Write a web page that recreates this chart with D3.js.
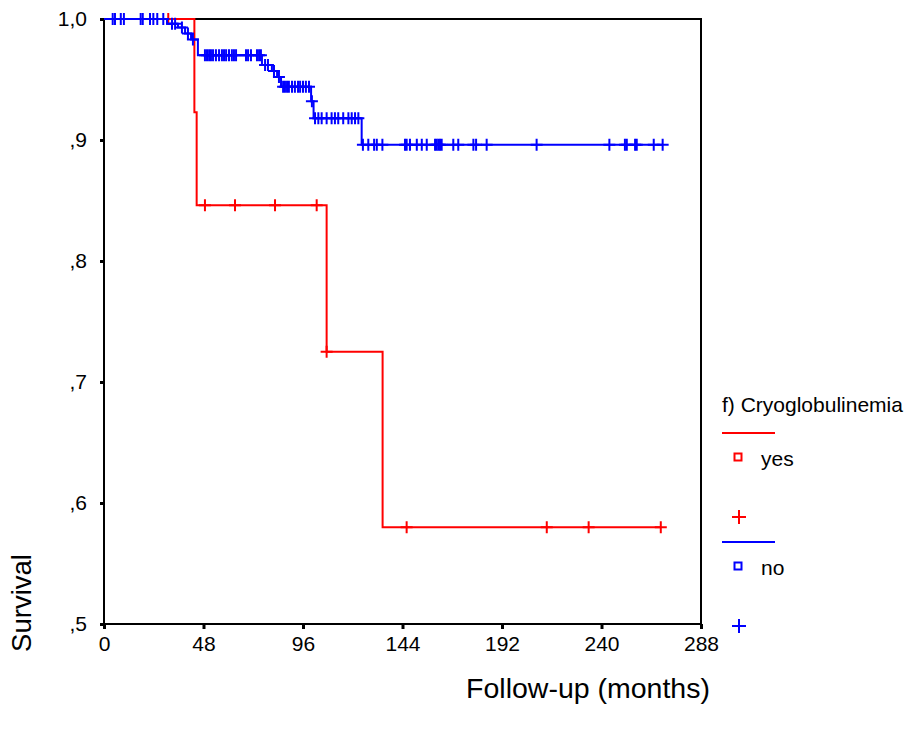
<!DOCTYPE html>
<html>
<head>
<meta charset="utf-8">
<script src="https://cdn.jsdelivr.net/npm/d3@7"></script>
<style>
  html, body { margin: 0; padding: 0; background: #fff; }
  svg { display: block; }
  text { font-family: "Liberation Sans", Arial, sans-serif; fill: #000; }
</style>
</head>
<body>
<svg id="chart" width="908" height="733"></svg>
<script>
// ---------- data ----------
const xTicks = [0, 48, 96, 144, 192, 240, 288];
const yTicks = [1.0, 0.9, 0.8, 0.7, 0.6, 0.5];
const yTickLabels = ["1,0", ",9", ",8", ",7", ",6", ",5"];

const groups = ["yes", "no"];
const groupColors = ["#ff0000", "#0000ff"];
const legendTitle = "f) Cryoglobulinemia";
const xTitle = "Follow-up (months)";
const yTitle = "Survival";

// "yes" (red) step curve: times (months) and survival after each step
const yesTimes = [0, 43.6, 44.7, 107.4, 134.4];
const yesSurv  = [1.0, 0.923, 0.846, 0.725, 0.580];
const yesCensor = [31.0, 48.7, 63.2, 82.5, 102.6, 107.4, 146.0, 213.6, 233.8, 268.6];

// "no" (blue) step curve
const noTimes = [0, 30.4, 35.7, 39.1, 42.0, 45.3, 76.2, 81.0, 83.5, 85.4, 99.9, 101.1, 124.3];
const noSurv  = [1.0, 0.996, 0.993, 0.988, 0.983, 0.970, 0.962, 0.957, 0.952, 0.944, 0.932, 0.918, 0.896];
const noCensor = [
  4.2, 5.3, 8.1, 9.6, 17.7, 18.7, 22.2, 23.8, 25.7, 28.6,
  32.8, 34.3, 37.6, 40.5, 42.9,
  48.7, 49.7, 50.7, 51.6, 52.6, 54.0, 55.5, 56.9, 57.9, 58.9, 60.3, 61.7, 62.7, 63.7,
  68.5, 69.5, 70.9, 73.8, 74.8, 75.7,
  77.7, 79.1, 82.0, 84.4,
  86.4, 87.3, 88.3, 89.2, 90.7, 92.1, 93.6, 94.6, 96.0, 97.4, 98.9,
  100.3,
  101.8, 103.4, 105.0, 107.4, 109.8, 111.4, 113.0, 115.4, 117.9, 119.5, 121.1, 122.7,
  124.9, 127.5, 130.3, 131.6, 134.3, 145.2, 146.0, 147.6, 150.9, 153.3, 155.7,
  159.7, 160.5, 161.3, 162.1, 162.9, 168.5, 170.9, 178.2, 179.5, 184.6,
  208.7, 243.8, 251.3, 252.2, 256.2, 257.0, 265.2, 269.5
];

// ---------- layout ----------
const svg = d3.select("#chart");
const x = d3.scaleLinear().domain([0, 288]).range([104, 701]);
const y = d3.scaleLinear().domain([0.5, 1.0]).range([624, 19]);

// frame
svg.append("rect")
  .attr("x", x(0)).attr("y", y(1))
  .attr("width", x(288) - x(0)).attr("height", y(0.5) - y(1))
  .attr("fill", "none").attr("stroke", "#000").attr("stroke-width", 2);

// x axis
const xAxis = svg.append("g").attr("transform", `translate(0,${y(0.5)})`)
  .call(d3.axisBottom(x).tickValues(xTicks).tickSize(5).tickPadding(7).tickFormat(d3.format("d")));
xAxis.select(".domain").remove();
xAxis.selectAll(".tick line").attr("stroke", "#000").attr("stroke-width", 3);
xAxis.selectAll(".tick text").attr("font-size", 21).attr("font-family", "Liberation Sans, Arial, sans-serif");

// y axis
const yAxis = svg.append("g").attr("transform", `translate(${x(0)},0)`)
  .call(d3.axisLeft(y).tickValues(yTicks).tickSize(4).tickPadding(13)
    .tickFormat(d => yTickLabels[yTicks.indexOf(d)]));
yAxis.select(".domain").remove();
yAxis.selectAll(".tick line").attr("stroke", "#000").attr("stroke-width", 3);
yAxis.selectAll(".tick text").attr("font-size", 21).attr("font-family", "Liberation Sans, Arial, sans-serif");

// axis titles
svg.append("text").attr("x", 588).attr("y", 698).attr("text-anchor", "middle")
  .attr("font-size", 28.5).text(xTitle);
svg.append("text").attr("transform", `translate(31,603) rotate(-90)`).attr("text-anchor", "middle")
  .attr("font-size", 27.5).text(yTitle);

// ---------- curves ----------
function stepAt(times, surv, t) {
  let s = surv[0];
  for (let i = 0; i < times.length; i++) if (times[i] <= t) s = surv[i];
  return s;
}
const line = d3.line().x(d => x(d[0])).y(d => y(d[1])).curve(d3.curveStepAfter);

function drawCurve(times, surv, censor, color) {
  const tEnd = d3.max(censor.concat(times));
  const pts = times.map((t, i) => [t, surv[i]]);
  pts.push([tEnd, surv[surv.length - 1]]);
  const g = svg.append("g");
  g.append("path").attr("d", line(pts)).attr("fill", "none")
    .attr("stroke", color).attr("stroke-width", 2);
  g.selectAll("path.cens").data(censor).join("path").attr("class", "cens")
    .attr("d", t => {
      const cx = x(t), cy = y(stepAt(times, surv, t));
      return `M${cx - 6},${cy}H${cx + 6}M${cx},${cy - 6}V${cy + 6}`;
    })
    .attr("fill", "none").attr("stroke", color).attr("stroke-width", 2);
}
drawCurve(yesTimes, yesSurv, yesCensor, groupColors[0]);
drawCurve(noTimes, noSurv, noCensor, groupColors[1]);

// ---------- legend ----------
const lg = svg.append("g");
lg.append("text").attr("x", 722).attr("y", 412).attr("font-size", 21).text(legendTitle);
groups.forEach((name, i) => {
  const off = i * 109;
  const c = groupColors[i];
  lg.append("line").attr("x1", 722).attr("x2", 775).attr("y1", 433 + off).attr("y2", 433 + off)
    .attr("stroke", c).attr("stroke-width", 2);
  lg.append("rect").attr("x", 734.5).attr("y", 453.5 + off).attr("width", 7).attr("height", 7)
    .attr("fill", "none").attr("stroke", c).attr("stroke-width", 2);
  lg.append("text").attr("x", 761).attr("y", 466 + off).attr("font-size", 21).text(name);
  lg.append("path").attr("d", `M${732},${517 + off}H${746}M${739},${510 + off}V${524 + off}`)
    .attr("stroke", c).attr("stroke-width", 2).attr("fill", "none");
});
</script>
</body>
</html>
